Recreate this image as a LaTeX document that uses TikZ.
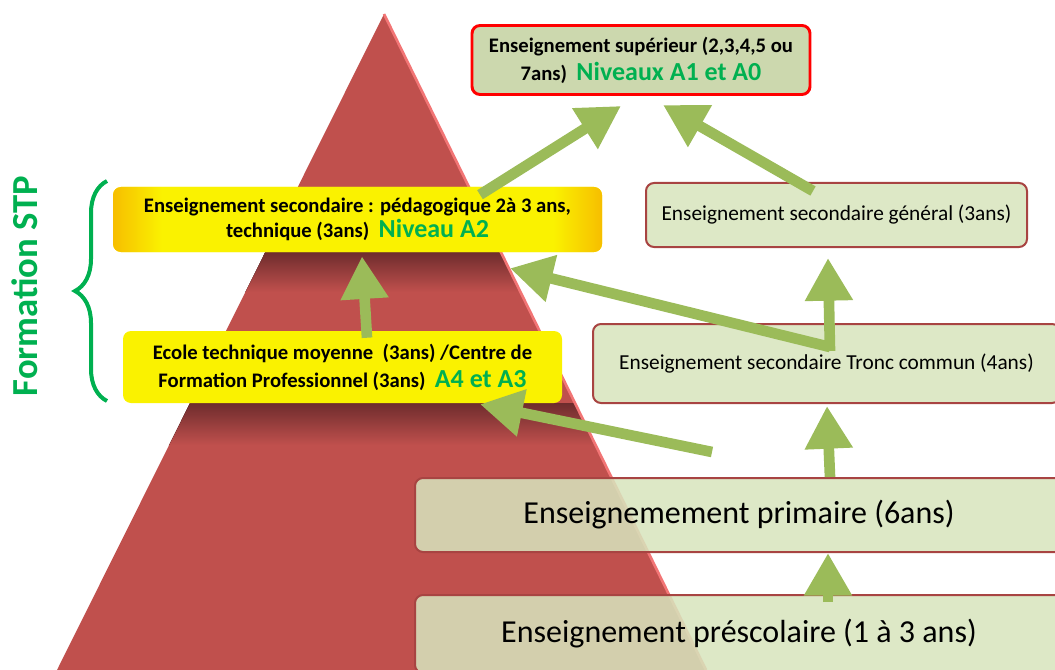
\documentclass[tikz,border=0pt]{standalone}
\usepackage{fontspec}
\setmainfont{Carlito}
\usetikzlibrary{arrows.meta,decorations.pathreplacing}
\definecolor{pyrred}{HTML}{C0504D}
\definecolor{pyrdark}{HTML}{6E2C2D}
\definecolor{pyrlight}{HTML}{F27575}
\definecolor{boxgreen}{HTML}{D7E4BD}
\definecolor{boxedge}{HTML}{A84442}
\definecolor{supfill}{HTML}{CCD8AE}
\definecolor{arrgreen}{HTML}{9BBB59}
\definecolor{stpgreen}{HTML}{00B050}
\definecolor{ygold}{HTML}{F7BE00}
\definecolor{ylw}{HTML}{FAF200}
\pgfdeclarehorizontalshading{yelsides}{100bp}{color(0bp)=(ygold); color(25bp)=(ygold);
  color(30bp)=(ylw); color(70bp)=(ylw); color(75bp)=(ygold); color(100bp)=(ygold)}
\newcommand\lvltag[1]{{\color{stpgreen}\fontsize{19.5}{19}\selectfont #1}}
\tikzset{
  lvlbox/.style={draw=boxedge, line width=1.5pt, fill=boxgreen, fill opacity=0.86,
    text opacity=1, rounded corners=6pt, inner sep=0pt, align=center},
  yelbox/.style={fill=ylw, rounded corners=6pt, inner sep=0pt, align=center,
    font=\bfseries\fontsize{15.5}{19}\selectfont},
  bigarrow/.style={draw=arrgreen, line width=8pt, -{Triangle[length=32pt,width=34pt]}}
}
\begin{document}
\begin{tikzpicture}[x=0.75pt, y=-0.75pt]
    \useasboundingbox (0,0) rectangle (1055,670);
    \clip (0,0) rectangle (1055,670);
    % pyramid
    \def\pyramid{(384,14) -- (706,670) -- (57,670) -- cycle}
    \fill[pyrred] \pyramid;
    \begin{scope}
        \clip \pyramid;
        \fill[top color=pyrdark, bottom color=pyrred] (50,252) rectangle (720,292);
        \fill[top color=pyrdark, bottom color=pyrred] (50,403) rectangle (720,445);
    \end{scope}
    \draw[pyrlight, line width=2pt] (384,14) -- (706,670);
    % formation STP
    \node[rotate=90, stpgreen, font=\bfseries\fontsize{27.5}{30}\selectfont] (stp) at (25,286) {Formation STP};
    \draw[stpgreen, line width=3pt, decorate, decoration={brace, amplitude=24pt}] (107,401) -- (107,181);
    % yellow boxes
    \node[yelbox, shading=yelsides, minimum width=366.75pt, minimum height=48.75pt] (yel1) at (357.5,219.5)
        {Enseignement secondaire : pédagogique 2à 3 ans,\\ technique (3ans)\ \ \lvltag{Niveau A2}};
    \node[yelbox, minimum width=329.25pt, minimum height=54pt, font=\bfseries\fontsize{15.5}{21}\selectfont] (yel2) at (342.5,367)
        {Ecole technique moyenne \ (3ans) /Centre de\\ Formation Professionnel (3ans)\ \ \lvltag{A4 et A3}};
    % level boxes
    \node[lvlbox, draw=red, line width=2.2pt, fill=supfill, fill opacity=1, minimum width=253.5pt, minimum height=51.75pt,
        font=\bfseries\fontsize{15.5}{21}\selectfont] (sup) at (641,60)
        {Enseignement supérieur (2,3,4,5 ou\\ 7ans)\ \ \lvltag{Niveaux A1 et A0}};
    \node[lvlbox, minimum width=285.75pt, minimum height=48pt, font=\fontsize{16}{19}\selectfont] (gen) at (836.5,215)
        {Enseignement secondaire général (3ans)};
    \node[lvlbox, minimum width=350.25pt, minimum height=59.25pt, font=\fontsize{16}{19}\selectfont] (tronc) at (826.5,363.5)
        {Enseignement secondaire Tronc commun (4ans)};
    \node[lvlbox, minimum width=486pt, minimum height=55.5pt, font=\fontsize{24}{28}\selectfont] (prim) at (739,515)
        {Enseignemement primaire (6ans)};
    \node[lvlbox, minimum width=486pt, minimum height=58.5pt, font=\fontsize{24}{28}\selectfont] (presc) at (739,634)
        {Enseignement préscolaire (1 à 3 ans)};
    % arrows
    \coordinate (free) at (712,452);
    \draw[bigarrow] ([shift={(122.5,8)}]yel1.north) -- ([shift={(-20,10)}]sup.south);
    \draw[bigarrow] ([shift={(-23.5,9)}]gen.north) -- ([shift={(22,9)}]sup.south);
    \draw[bigarrow] ([shift={(3.5,28)}]tronc.north) -- ([shift={(-8.5,10)}]gen.south);
    \draw[bigarrow] ([shift={(3.5,24)}]tronc.north) -- ([shift={(152.5,16)}]yel1.south);
    \draw[bigarrow] ([shift={(24.5,7)}]yel2.north) -- ([shift={(4.5,4)}]yel1.south);
    \draw[bigarrow] (free) -- ([shift={(137.5,1)}]yel2.south);
    \draw[bigarrow] ([shift={(91,0)}]prim.north) -- ([shift={(0.5,2)}]tronc.south);
    \draw[bigarrow] ([shift={(89,8)}]presc.north) -- ([shift={(89,0)}]prim.south);
\end{tikzpicture}
\end{document}
